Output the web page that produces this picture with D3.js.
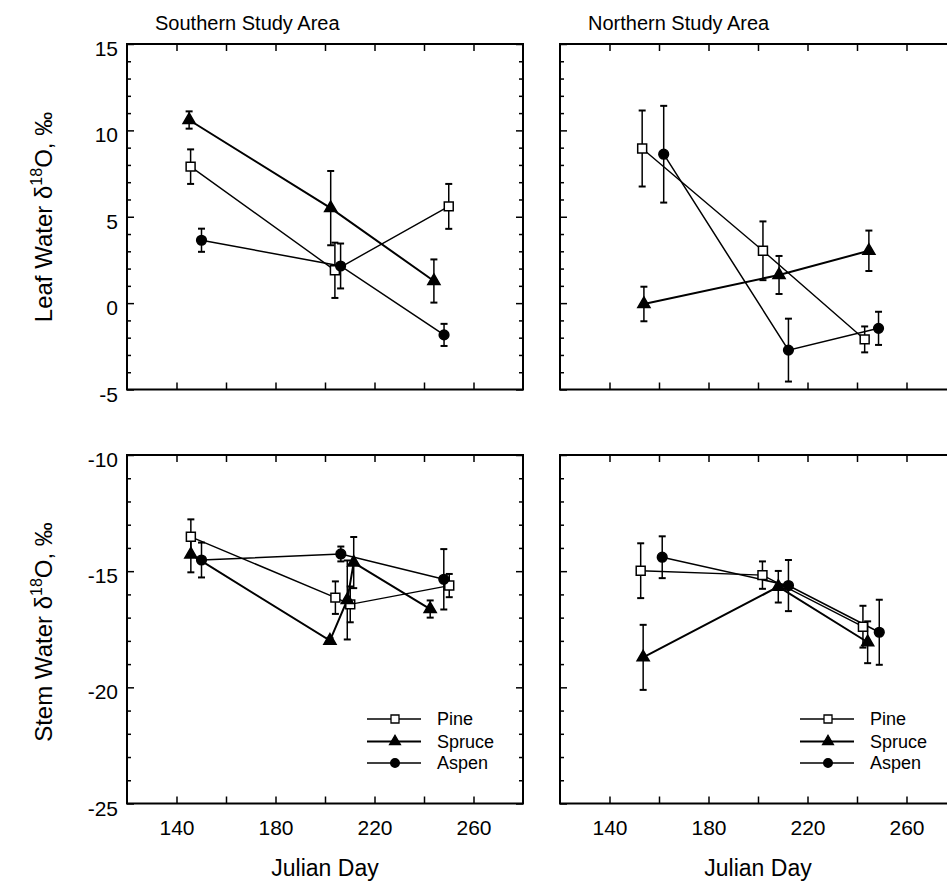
<!DOCTYPE html>
<html>
<head>
<meta charset="utf-8">
<script src="https://cdn.jsdelivr.net/npm/d3@7"></script>
<style>
  body { margin: 0; background: #fff; }
  svg { display: block; }
  text { font-family: "Liberation Sans", Arial, Helvetica, sans-serif; fill: #000; }
</style>
</head>
<body>
<svg id="chart" width="947" height="883"></svg>
<script>
// data: [julian day, delta 18O, error]
var species = ["Pine", "Spruce", "Aspen"];
var areaTitles = ["Southern Study Area", "Northern Study Area"];
var xTicks = [140, 160, 180, 200, 220, 240, 260];
var xLabels = [140, 180, 220, 260];
var leafTicks = [-5, 0, 5, 10, 15];
var stemTicks = [-25, -20, -15, -10];

var leafSouthPine   = [[145.7, 7.9, 1.0], [204, 1.9, 1.6], [250, 5.6, 1.3]];
var leafSouthSpruce = [[145.1, 10.6, 0.5], [202.3, 5.5, 2.15], [244, 1.28, 1.25]];
var leafSouthAspen  = [[150.1, 3.64, 0.67], [206.3, 2.15, 1.3], [248.1, -1.84, 0.64]];

var leafNorthPine   = [[153.2, 8.95, 2.2], [202, 3.03, 1.7], [243.1, -2.1, 0.75]];
var leafNorthSpruce = [[153.9, -0.05, 1.0], [208.5, 1.63, 1.1], [244.8, 3.03, 1.17]];
var leafNorthAspen  = [[161.9, 8.62, 2.8], [212.3, -2.72, 1.82], [248.7, -1.46, 0.96]];

var stemSouthPine   = [[145.8, -13.52, 0.75], [204.2, -16.14, 0.7], [210.2, -16.43, 0.77], [250.2, -15.62, 0.5]];
var stemSouthSpruce = [[145.8, -14.28, 0.77], [202, -17.99, 0.12], [209, -16.24, 1.7], [211.6, -14.63, 1.1], [242.5, -16.63, 0.37]];
var stemSouthAspen  = [[150.1, -14.52, 0.75], [206.4, -14.26, 0.32], [248, -15.35, 1.3]];

var stemNorthPine   = [[152.6, -14.98, 1.18], [201.8, -15.17, 0.59], [242.4, -17.39, 0.9]];
var stemNorthSpruce = [[153.6, -18.71, 1.4], [208.2, -15.67, 0.68], [244.3, -18.06, 0.9]];
var stemNorthAspen  = [[161.3, -14.4, 0.9], [212.3, -15.62, 1.1], [249, -17.63, 1.4]];

var svg = d3.select("#chart");

var xs = [
  d3.scaleLinear().domain([120, 280]).range([127, 523]),
  d3.scaleLinear().domain([120, 280]).range([560, 956])
];
var ys = [
  d3.scaleLinear().domain([-5, 15]).range([389.5, 44]),
  d3.scaleLinear().domain([-25, -10]).range([803.5, 455])
];
var majors = [leafTicks, stemTicks];

var panels = [
  {col: 0, row: 0, series: [leafSouthPine, leafSouthSpruce, leafSouthAspen]},
  {col: 1, row: 0, series: [leafNorthPine, leafNorthSpruce, leafNorthAspen]},
  {col: 0, row: 1, series: [stemSouthPine, stemSouthSpruce, stemSouthAspen]},
  {col: 1, row: 1, series: [stemNorthPine, stemNorthSpruce, stemNorthAspen]}
];

var symbols = [d3.symbolSquare, d3.symbolTriangle, d3.symbolCircle];
var symSize = [80, 64, 74];
var fills = ["#fff", "#000", "#000"];
var lineW = [1.4, 2, 1.5];

panels.forEach(function(p) {
  var x = xs[p.col], y = ys[p.row];
  var g = svg.append("g");
  var dom = y.domain();
  var minors = d3.range(dom[0], dom[1] + 1).filter(function(v) { return majors[p.row].indexOf(v) < 0; });

  function styleAxis(sel) {
    sel.select(".domain").remove();
    sel.selectAll(".tick line").attr("stroke", "#000").attr("stroke-width", 1.5);
    sel.selectAll("text").style("font-size", "21px").attr("fill", "#000");
  }

  g.append("g").attr("transform", "translate(0," + y.range()[0] + ")")
    .call(d3.axisBottom(x).tickValues(xTicks).tickSize(-7).tickPadding(17)
      .tickFormat(function(d) { return (p.row == 1 && xLabels.indexOf(d) >= 0) ? String(d) : ""; }))
    .call(styleAxis);
  g.append("g").attr("transform", "translate(0," + y.range()[1] + ")")
    .call(d3.axisTop(x).tickValues(xTicks).tickSize(-7).tickFormat(""))
    .call(styleAxis);

  g.append("g").attr("transform", "translate(" + x.range()[0] + ",0)")
    .call(d3.axisLeft(y).tickValues(majors[p.row]).tickSize(-7).tickPadding(9)
      .tickFormat(function(d) { return p.col == 0 ? String(d) : ""; }))
    .call(styleAxis)
    .selectAll("text").attr("dy", "0.55em");
  g.append("g").attr("transform", "translate(" + x.range()[0] + ",0)")
    .call(d3.axisLeft(y).tickValues(minors).tickSize(-4).tickFormat(""))
    .call(styleAxis);
  g.append("g").attr("transform", "translate(" + x.range()[1] + ",0)")
    .call(d3.axisRight(y).tickValues(majors[p.row]).tickSize(-7).tickFormat(""))
    .call(styleAxis);
  g.append("g").attr("transform", "translate(" + x.range()[1] + ",0)")
    .call(d3.axisRight(y).tickValues(minors).tickSize(-4).tickFormat(""))
    .call(styleAxis);

  g.append("rect")
    .attr("x", x.range()[0]).attr("y", y.range()[1])
    .attr("width", x.range()[1] - x.range()[0])
    .attr("height", y.range()[0] - y.range()[1])
    .attr("fill", "none").attr("stroke", "#000").attr("stroke-width", 2);

  var line = d3.line().x(function(d) { return x(d[0]); }).y(function(d) { return y(d[1]); });

  p.series.forEach(function(s, i) {
    g.append("path").datum(s).attr("d", line)
      .attr("fill", "none").attr("stroke", "#000").attr("stroke-width", lineW[i]);
  });

  p.series.forEach(function(s, i) {
    var eb = g.append("g").selectAll("g").data(s).enter().append("g");
    eb.append("line")
      .attr("x1", function(d) { return x(d[0]); }).attr("x2", function(d) { return x(d[0]); })
      .attr("y1", function(d) { return y(d[1] + d[2]); }).attr("y2", function(d) { return y(d[1] - d[2]); })
      .attr("stroke", "#000").attr("stroke-width", 1.5);
    [1, -1].forEach(function(sgn) {
      eb.append("line")
        .attr("x1", function(d) { return x(d[0]) - 3.5; }).attr("x2", function(d) { return x(d[0]) + 3.5; })
        .attr("y1", function(d) { return y(d[1] + sgn * d[2]); }).attr("y2", function(d) { return y(d[1] + sgn * d[2]); })
        .attr("stroke", "#000").attr("stroke-width", 2);
    });
  });

  p.series.forEach(function(s, i) {
    g.append("g").selectAll("path").data(s).enter().append("path")
      .attr("d", d3.symbol().type(symbols[i]).size(symSize[i]))
      .attr("transform", function(d) { return "translate(" + x(d[0]) + "," + y(d[1]) + ")"; })
      .attr("fill", fills[i]).attr("stroke", "#000").attr("stroke-width", 1.5);
  });

  if (p.row == 1) {
    // legend
    var lx = x.range()[0] + 240, rowsY = [719, 741.5, 763];
    species.forEach(function(name, i) {
      var lg = svg.append("g").attr("transform", "translate(" + lx + "," + rowsY[i] + ")");
      lg.append("line").attr("x1", 0).attr("x2", 54).attr("y1", 0).attr("y2", 0)
        .attr("stroke", "#000").attr("stroke-width", lineW[i]);
      lg.append("path").attr("d", d3.symbol().type(symbols[i]).size(symSize[i] * 0.8))
        .attr("transform", "translate(28,0)")
        .attr("fill", fills[i]).attr("stroke", "#000").attr("stroke-width", 1.3);
      lg.append("text").attr("x", 70).attr("y", 6).style("font-size", "18px").text(name);
    });

    svg.append("text").attr("x", (x.range()[0] + x.range()[1]) / 2).attr("y", 876)
      .attr("text-anchor", "middle").style("font-size", "23px").text("Julian Day");
  } else {
    svg.append("text").attr("x", x.range()[0] + 28).attr("y", 30)
      .style("font-size", "20px").text(areaTitles[p.col]);
  }
});

// y axis titles
[["Leaf Water δ", 217], ["Stem Water δ", 632]].forEach(function(t) {
  var tt = svg.append("text").attr("transform", "translate(52," + t[1] + ") rotate(-90)")
    .attr("text-anchor", "middle").style("font-size", "24px");
  tt.append("tspan").text(t[0]);
  tt.append("tspan").attr("dy", -10).style("font-size", "16px").text("18");
  tt.append("tspan").attr("dy", 10).text("O, ‰");
});
</script>
</body>
</html>
